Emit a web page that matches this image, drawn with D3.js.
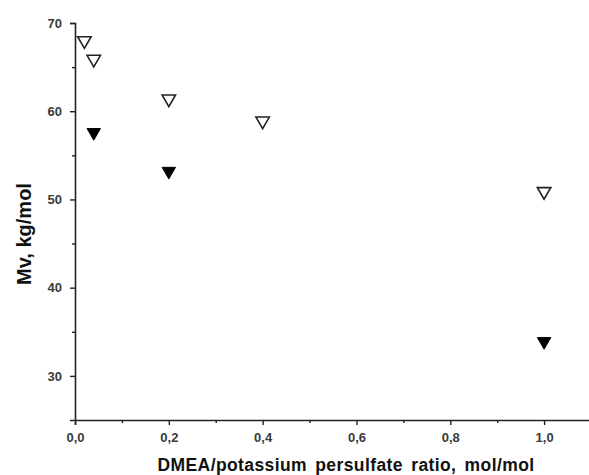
<!DOCTYPE html>
<html>
<head>
<meta charset="utf-8">
<script src="https://cdn.jsdelivr.net/npm/d3@7"></script>
<style>
  body { margin: 0; background: #fff; }
  svg { display: block; font-family: "Liberation Sans", Arial, sans-serif; }
</style>
</head>
<body>
<svg id="chart" width="589" height="475"></svg>
<script>
(() => {
    // data
    const openX = [0.02, 0.04, 0.2, 0.4, 1.0];
    const openY = [68.0, 65.9, 61.4, 58.9, 50.9];
    const filledX = [0.04, 0.2, 1.0];
    const filledY = [57.6, 53.2, 33.9];
    const xTicks = [0, 0.2, 0.4, 0.6, 0.8, 1.0];
    const yTicks = [30, 40, 50, 60, 70];
    const xMinor = [0.1, 0.3, 0.5, 0.7, 0.9];
    const yMinor = [35, 45, 55, 65];

    const svg = d3.select("#chart");
    const margin = { left: 75, top: 23, right: 0, bottom: 55 };

    const x = d3.scaleLinear().domain([0, 1.1]).range([margin.left, margin.left + 516]);
    const y = d3.scaleLinear().domain([25, 70]).range([420, 23]);

    const fmt = d => d3.format(".1f")(d).replace(".", ",");

    // x axis
    svg.append("g").attr("transform", "translate(0,420)")
        .call(d3.axisBottom(x).tickValues(xTicks).tickFormat(fmt).tickSize(5).tickPadding(8));
    svg.append("g").attr("transform", "translate(0,420)")
        .call(d3.axisBottom(x).tickValues(xMinor).tickFormat("").tickSize(3))
        .select(".domain").remove();

    // y axis
    svg.append("g").attr("transform", `translate(${margin.left},0)`)
        .call(d3.axisLeft(y).tickValues(yTicks).tickFormat(d3.format("d")).tickSize(5).tickPadding(8));
    svg.append("g").attr("transform", `translate(${margin.left},0)`)
        .call(d3.axisLeft(y).tickValues(yMinor).tickFormat("").tickSize(3))
        .select(".domain").remove();

    svg.selectAll(".domain").attr("stroke", "#222").attr("stroke-width", 1.6);
    svg.selectAll(".tick line").attr("stroke", "#222").attr("stroke-width", 1.4);
    svg.selectAll(".tick text")
        .attr("font-size", 13).attr("font-weight", "bold")
        .attr("fill", "#3a3a3a").attr("font-family", "'Liberation Sans', Arial, sans-serif");

    // markers: downward triangles
    const tri = d3.symbol().type(d3.symbolTriangle).size(78);

    svg.append("g").selectAll("path")
        .data(openX.map((v, i) => [v, openY[i]]))
        .join("path")
        .attr("d", tri)
        .attr("transform", d => `translate(${x(d[0])},${y(d[1])}) rotate(180)`)
        .attr("fill", "#fff").attr("stroke", "#222").attr("stroke-width", 1.6);

    svg.append("g").selectAll("path")
        .data(filledX.map((v, i) => [v, filledY[i]]))
        .join("path")
        .attr("d", tri)
        .attr("transform", d => `translate(${x(d[0])},${y(d[1])}) rotate(180)`)
        .attr("fill", "#000").attr("stroke", "#000").attr("stroke-width", 1);

    // axis titles
    svg.append("text")
        .attr("x", 346).attr("y", 471)
        .attr("text-anchor", "middle")
        .attr("font-size", 17.5).attr("font-weight", "bold").attr("fill", "#111")
        .attr("letter-spacing", 0.4).attr("word-spacing", 3)
        .text("DMEA/potassium persulfate ratio, mol/mol");

    svg.append("text")
        .attr("transform", "translate(31,234) rotate(-90)")
        .attr("text-anchor", "middle")
        .attr("font-size", 20).attr("font-weight", "bold").attr("fill", "#111")
        .text("Mv, kg/mol");
})();
</script>
</body>
</html>
